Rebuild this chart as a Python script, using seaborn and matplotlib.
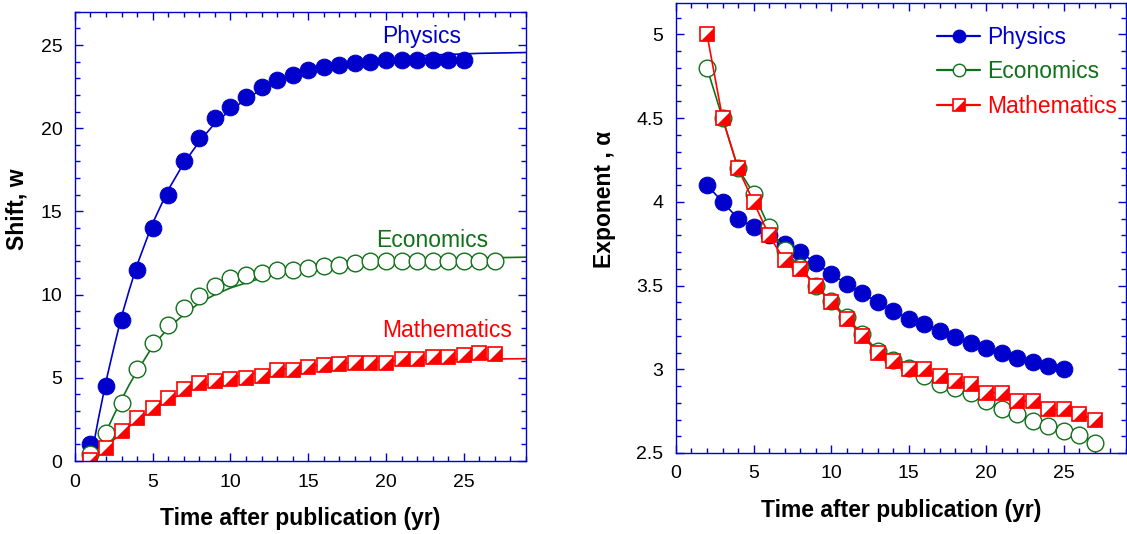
import numpy as np
import pandas as pd
import matplotlib
matplotlib.use("Agg")
import matplotlib.pyplot as plt
from matplotlib.lines import Line2D
from matplotlib.legend_handler import HandlerTuple
from matplotlib.ticker import MultipleLocator, FormatStrFormatter
import seaborn as sns

# ---- left panel: shift w vs time ----
phys_t = list(range(1, 26))
phys_w = [1.0, 4.5, 8.5, 11.5, 14.0, 16.0, 18.0, 19.4, 20.6, 21.3, 21.9, 22.5, 22.9,
          23.2, 23.5, 23.7, 23.8, 23.9, 24.0, 24.1, 24.1, 24.1, 24.1, 24.1, 24.1]
econ_t = list(range(1, 28))
econ_w = [0.4, 1.7, 3.5, 5.5, 7.1, 8.2, 9.2, 9.9, 10.5, 11.0, 11.2, 11.3, 11.5, 11.5,
          11.6, 11.7, 11.8, 11.9, 12.0, 12.0, 12.0, 12.0, 12.0, 12.0, 12.0, 12.0, 12.0]
math_t = list(range(1, 28))
math_w = [0.05, 0.8, 1.8, 2.6, 3.2, 3.8, 4.3, 4.7, 4.8, 4.95, 5.0, 5.1, 5.45, 5.45,
          5.65, 5.75, 5.85, 5.9, 5.9, 5.9, 6.15, 6.15, 6.25, 6.25, 6.4, 6.5, 6.45]

# fitted curves
phys_fit_t = [1, 1.5, 2, 2.5, 3, 3.5, 4, 5, 6, 7, 8, 9, 10, 12, 14, 16, 18, 20, 23, 26, 29]
phys_fit_w = [0.0, 2.5, 4.8, 6.8, 8.7, 10.3, 11.8, 14.3, 16.3, 17.9, 19.2, 20.3, 21.1,
              22.35, 23.15, 23.65, 24.0, 24.2, 24.4, 24.5, 24.55]
econ_fit_t = [1, 1.5, 2, 2.5, 3, 3.5, 4, 5, 6, 7, 8, 9, 10, 12, 14, 16, 18, 20, 23, 26, 29]
econ_fit_w = [0.0, 0.85, 1.75, 2.75, 3.7, 4.6, 5.4, 6.9, 8.0, 8.8, 9.5, 10.0, 10.4,
              11.0, 11.45, 11.75, 11.95, 12.05, 12.15, 12.2, 12.25]
math_fit_t = [1, 2, 3, 4, 5, 6, 7, 8, 9, 10, 12, 14, 16, 18, 20, 23, 26, 29]
math_fit_w = [0.0, 0.85, 1.7, 2.45, 3.1, 3.65, 4.1, 4.45, 4.75, 5.0, 5.35, 5.6, 5.8,
              5.92, 6.0, 6.08, 6.12, 6.15]

# ---- right panel: exponent alpha vs time ----
phys_a_t = list(range(2, 26))
phys_a = [4.10, 4.00, 3.90, 3.85, 3.80, 3.75, 3.70, 3.635, 3.57, 3.51, 3.455, 3.40,
          3.35, 3.30, 3.27, 3.23, 3.19, 3.16, 3.13, 3.10, 3.07, 3.045, 3.02, 3.0]
econ_a_t = list(range(2, 28))
econ_a = [4.80, 4.50, 4.20, 4.05, 3.85, 3.71, 3.61, 3.50, 3.41, 3.31, 3.21, 3.11, 3.055,
          3.01, 2.96, 2.91, 2.89, 2.86, 2.81, 2.76, 2.73, 2.69, 2.66, 2.63, 2.61, 2.56]
math_a_t = list(range(2, 28))
math_a = [5.00, 4.50, 4.20, 4.00, 3.80, 3.65, 3.60, 3.50, 3.40, 3.30, 3.20, 3.10, 3.05,
          3.00, 3.00, 2.96, 2.93, 2.91, 2.86, 2.86, 2.81, 2.81, 2.76, 2.76, 2.73, 2.70]

names = ["Physics", "Economics", "Mathematics"]

BLUE = "#0000cc"
GREEN = "#11701a"
RED = "#ff0000"
AXC = "#0000cc"

sns.set_style("ticks")
plt.rcParams["font.family"] = ["Liberation Sans", "DejaVu Sans"]
plt.rcParams["text.color"] = "black"
plt.rcParams["axes.labelcolor"] = "black"

# lower-right half of a square
half_tri = [(-1, -1), (1, -1), (1, 1), (-1, -1)]

fig = plt.figure(figsize=(11.27, 5.34), dpi=100)
ax1 = fig.add_axes([0.0665, 0.1367, 0.4002, 0.8413])
ax2 = fig.add_axes([0.5998, 0.1517, 0.3993, 0.8433])

MS = 12
SQ = 9.8
LW = 1.2

# left panel fits
sns.lineplot(x=phys_fit_t, y=phys_fit_w, ax=ax1, color=BLUE, lw=LW, sort=False)
sns.lineplot(x=econ_fit_t, y=econ_fit_w, ax=ax1, color=GREEN, lw=LW, sort=False)
sns.lineplot(x=math_fit_t, y=math_fit_w, ax=ax1, color=RED, lw=LW, sort=False)

# left panel markers
sns.lineplot(x=phys_t, y=phys_w, ax=ax1, color=BLUE, lw=0, marker="o", markersize=MS,
             markeredgecolor=BLUE, markerfacecolor=BLUE)
sns.lineplot(x=econ_t, y=econ_w, ax=ax1, color=GREEN, lw=0, marker="o", markersize=MS,
             markeredgecolor=GREEN, markerfacecolor="white", markeredgewidth=1.0)
sns.lineplot(x=math_t, y=math_w, ax=ax1, color=RED, lw=0, marker="s", markersize=SQ,
             markeredgecolor=RED, markerfacecolor="white", markeredgewidth=1.2)
sns.lineplot(x=math_t, y=math_w, ax=ax1, color=RED, lw=0, marker=half_tri, markersize=SQ,
             markeredgecolor=RED, markerfacecolor=RED, markeredgewidth=0)

ax1.text(22.3, 25.5, "Physics", color=BLUE, fontsize=16.5, ha="center", va="center")
ax1.text(23.0, 13.25, "Economics", color=GREEN, fontsize=16.5, ha="center", va="center")
ax1.text(23.9, 7.85, "Mathematics", color=RED, fontsize=16.5, ha="center", va="center")

ax1.set_xlim(0, 29)
ax1.set_ylim(0, 27)
ax1.xaxis.set_major_locator(MultipleLocator(5))
ax1.xaxis.set_minor_locator(MultipleLocator(1))
ax1.yaxis.set_major_locator(MultipleLocator(5))
ax1.yaxis.set_minor_locator(MultipleLocator(1))
ax1.set_xticks([0, 5, 10, 15, 20, 25])
ax1.set_xlabel("Time after publication (yr)", fontsize=16.5, fontweight="bold", labelpad=12)
ax1.set_ylabel("Shift, w", fontsize=16.5, fontweight="bold")
ax1.yaxis.set_label_coords(-0.104, 0.561)

# right panel
sns.lineplot(x=phys_a_t, y=phys_a, ax=ax2, color=BLUE, lw=LW, marker="o", markersize=MS,
             markeredgecolor=BLUE, markerfacecolor=BLUE)
sns.lineplot(x=econ_a_t, y=econ_a, ax=ax2, color=GREEN, lw=LW, marker="o", markersize=MS,
             markeredgecolor=GREEN, markerfacecolor="white", markeredgewidth=1.0)
sns.lineplot(x=math_a_t, y=math_a, ax=ax2, color=RED, lw=LW, marker="s", markersize=SQ,
             markeredgecolor=RED, markerfacecolor="white", markeredgewidth=1.2)
sns.lineplot(x=math_a_t, y=math_a, ax=ax2, color=RED, lw=0, marker=half_tri, markersize=SQ,
             markeredgecolor=RED, markerfacecolor=RED, markeredgewidth=0)

ax2.set_xlim(0, 29)
ax2.set_ylim(2.5, 5.19)
ax2.xaxis.set_major_locator(MultipleLocator(5))
ax2.xaxis.set_minor_locator(MultipleLocator(1))
ax2.set_xticks([0, 5, 10, 15, 20, 25])
ax2.yaxis.set_major_locator(MultipleLocator(0.5))
ax2.yaxis.set_minor_locator(MultipleLocator(0.1))
ax2.yaxis.set_major_formatter(FormatStrFormatter("%g"))
ax2.set_xlabel("Time after publication (yr)", fontsize=16.5, fontweight="bold", labelpad=12)
ax2.set_ylabel("Exponent , α", fontsize=16.5, fontweight="bold")
ax2.yaxis.set_label_coords(-0.133, 0.563)

LMS = 9
LSQ = 8
h_phys = Line2D([], [], color=BLUE, lw=1.6, marker="o", markersize=LMS,
                markerfacecolor=BLUE, markeredgecolor=BLUE)
h_econ = Line2D([], [], color=GREEN, lw=1.6, marker="o", markersize=LMS,
                markerfacecolor="white", markeredgecolor=GREEN)
h_math_a = Line2D([], [], color=RED, lw=1.6, marker="s", markersize=LSQ,
                  markerfacecolor="white", markeredgecolor=RED, markeredgewidth=1.2)
h_math_b = Line2D([], [], color=RED, lw=0, marker=half_tri, markersize=LSQ,
                  markerfacecolor=RED, markeredgewidth=0)
leg = ax2.legend([h_phys, h_econ, (h_math_a, h_math_b)], names,
                 handler_map={tuple: HandlerTuple(ndivide=1, pad=0)},
                 loc="upper right", bbox_to_anchor=(1.026, 0.995), frameon=False,
                 fontsize=16.5, handlelength=1.9, handletextpad=0.3, labelspacing=0.52)
for txt, c in zip(leg.get_texts(), [BLUE, GREEN, RED]):
    txt.set_color(c)

for ax in (ax1, ax2):
    for sp in ax.spines.values():
        sp.set_visible(True)
        sp.set_color(AXC)
        sp.set_linewidth(1.0)
    ax.tick_params(which="both", direction="in", top=True, right=True, color=AXC,
                   labelsize=14, labelcolor="black")
    ax.tick_params(which="major", length=6, width=1.0, pad=9)
    ax.tick_params(which="minor", length=3.5, width=1.0)
    ax.grid(False)

fig.savefig("out.png", dpi=100)
